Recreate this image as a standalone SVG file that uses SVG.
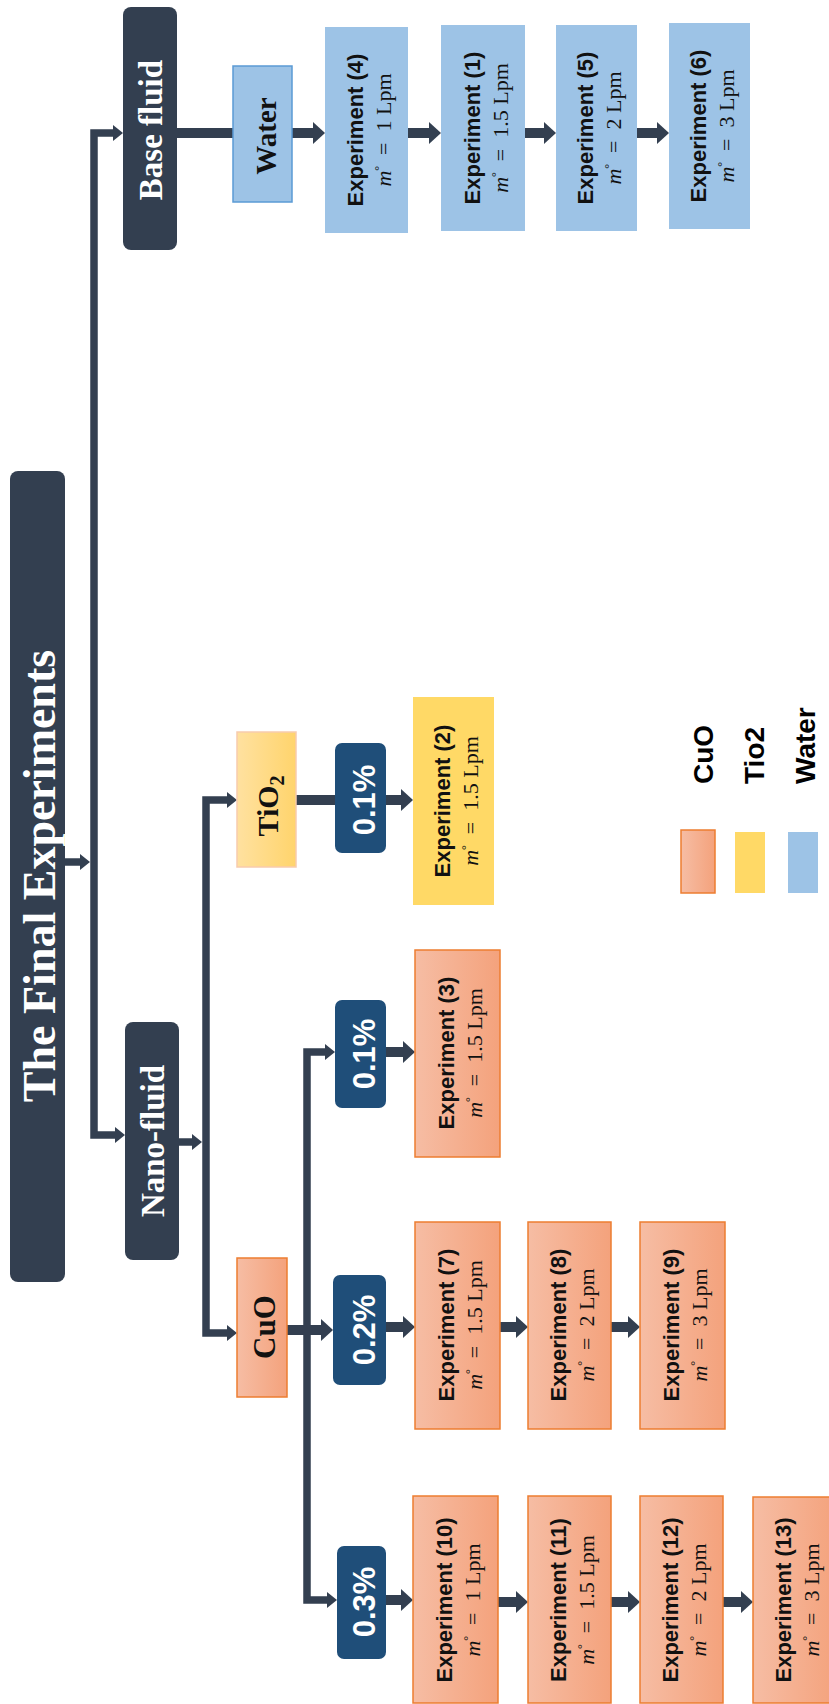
<svg xmlns="http://www.w3.org/2000/svg" width="829" height="1704" viewBox="0 0 829 1704">
<style>
.dark{fill:#333F50}
.pct{fill:#1F4E79}
.cuo{fill:url(#gCuO);stroke:#ED7D31;stroke-width:1.5}
.wat{fill:#9DC3E6}
.watb{fill:#9DC3E6;stroke:#5B9BD5;stroke-width:1.5}
.tib{fill:url(#gTi);stroke:#F8CBAD;stroke-width:1.5}
.ti{fill:#FFD966}
.t1{font-family:"Liberation Sans",Arial,sans-serif;font-weight:bold;font-size:22px;fill:#111;text-anchor:middle}
.t2{font-family:"Liberation Serif","Times New Roman",serif;font-size:22px;fill:#111;text-anchor:middle}
.sw{font-family:"Liberation Serif","Times New Roman",serif;font-weight:bold;fill:#fff;text-anchor:middle}
.sb{font-family:"Liberation Serif","Times New Roman",serif;font-weight:bold;fill:#111;text-anchor:middle}
.pt{font-family:"Liberation Sans",Arial,sans-serif;font-weight:bold;font-size:31px;fill:#fff;text-anchor:middle}
.lg{font-family:"Liberation Sans",Arial,sans-serif;font-weight:bold;font-size:28px;fill:#000;text-anchor:start}
.thin{fill:none;stroke:#333F50;stroke-width:7.5;stroke-linejoin:miter}
.thick{fill:none;stroke:#333F50;stroke-width:10}
</style>
<defs>
<linearGradient id="gCuO" x1="0" y1="0" x2="1" y2="0"><stop offset="0" stop-color="#F6BDA4"/><stop offset="1" stop-color="#F4A27C"/></linearGradient>
<linearGradient id="gTi" x1="0" y1="0" x2="1" y2="0"><stop offset="0" stop-color="#FFE1A0"/><stop offset="1" stop-color="#FFD46C"/></linearGradient>
<marker id="hk" markerUnits="userSpaceOnUse" markerWidth="13" markerHeight="22" refX="0" refY="11" orient="auto"><path d="M0,0 L12,11 L0,22 Z" fill="#333F50"/></marker>
<marker id="hn" markerUnits="userSpaceOnUse" markerWidth="11" markerHeight="16" refX="0" refY="8" orient="auto"><path d="M0,0 L10,8 L0,16 Z" fill="#333F50"/></marker>
</defs>

<g id="connectors">
<path class="thin" d="M65,862 H80" marker-end="url(#hn)"/>
<path class="thin" d="M94,862 V133 H113" marker-end="url(#hn)"/>
<path class="thin" d="M94,862 V1135 H115" marker-end="url(#hn)"/>
<path class="thin" d="M179,1142 H192" marker-end="url(#hn)"/>
<path class="thin" d="M206,1142 V800 H227" marker-end="url(#hn)"/>
<path class="thin" d="M206,1142 V1333 H227" marker-end="url(#hn)"/>
<path class="thin" d="M307,1330 V1052 H325" marker-end="url(#hn)"/>
<path class="thin" d="M307,1330 V1600 H327" marker-end="url(#hn)"/>
<path class="thick" d="M177,133 H233"/>
<path class="thick" d="M292,133 H313" marker-end="url(#hk)"/>
<path class="thick" d="M408,133 H429" marker-end="url(#hk)"/>
<path class="thick" d="M525,133 H544" marker-end="url(#hk)"/>
<path class="thick" d="M637,133 H657" marker-end="url(#hk)"/>
<path class="thick" d="M296,800 H335"/>
<path class="thick" d="M386,800 H401" marker-end="url(#hk)"/>
<path class="thick" d="M287,1330 H321" marker-end="url(#hk)"/>
<path class="thick" d="M386,1052 H403" marker-end="url(#hk)"/>
<path class="thick" d="M386,1327 H403" marker-end="url(#hk)"/>
<path class="thick" d="M500,1327 H516" marker-end="url(#hk)"/>
<path class="thick" d="M611,1327 H628" marker-end="url(#hk)"/>
<path class="thick" d="M386,1600 H401" marker-end="url(#hk)"/>
<path class="thick" d="M498,1602 H516" marker-end="url(#hk)"/>
<path class="thick" d="M611,1602 H628" marker-end="url(#hk)"/>
<path class="thick" d="M723,1602 H741" marker-end="url(#hk)"/>
</g>

<g id="title"><rect class="dark" x="10" y="471" width="55" height="811" rx="8"/>
<text class="sw" font-size="46" transform="translate(55,876) rotate(-90)">The Final Experiments</text></g>
<g id="base-fluid"><rect class="dark" x="123" y="7" width="54" height="243" rx="8"/>
<text class="sw" font-size="33" transform="translate(162,130) rotate(-90)">Base fluid</text></g>
<g id="nano-fluid"><rect class="dark" x="125" y="1022" width="54" height="238" rx="8"/>
<text class="sw" font-size="33" transform="translate(164,1141) rotate(-90)">Nano-fluid</text></g>
<g id="water"><rect class="watb" x="233" y="66" width="59" height="136"/>
<text class="sb" font-size="29" transform="translate(276,136) rotate(-90)">Water</text></g>
<g id="tio2"><rect class="tib" x="237" y="732" width="59" height="135"/>
<text class="sb" font-size="30" transform="translate(278,806) rotate(-90)">TiO<tspan font-size="20" dy="6">2</tspan></text></g>
<g id="cuo"><rect class="cuo" x="237" y="1258" width="50" height="139"/>
<text class="sb" font-size="31" transform="translate(275,1327) rotate(-90)">CuO</text></g>

<g id="pct-ti-01"><rect class="pct" x="335" y="743" width="51" height="110" rx="7"/>
<text class="pt" transform="translate(375,800) rotate(-90)">0.1%</text></g>
<g id="pct-cuo-01"><rect class="pct" x="335" y="1000" width="51" height="108" rx="7"/>
<text class="pt" transform="translate(375,1054) rotate(-90)">0.1%</text></g>
<g id="pct-cuo-02"><rect class="pct" x="333" y="1275" width="53" height="110" rx="7"/>
<text class="pt" transform="translate(375,1330) rotate(-90)">0.2%</text></g>
<g id="pct-cuo-03"><rect class="pct" x="337" y="1546" width="49" height="113" rx="7"/>
<text class="pt" transform="translate(375,1602) rotate(-90)">0.3%</text></g>

<g id="exp4"><rect class="wat" x="325" y="27" width="83" height="206"/>
<text class="t1" transform="translate(363,130) rotate(-90)">Experiment (4)</text>
<text class="t2" transform="translate(391,130) rotate(-90)"><tspan font-style="italic">m</tspan><tspan font-size="12" dy="-8">°</tspan><tspan dy="8">&#8194;=&#8194;1 Lpm</tspan></text></g>
<g id="exp1"><rect class="wat" x="441" y="25" width="84" height="206"/>
<text class="t1" transform="translate(480,128) rotate(-90)">Experiment (1)</text>
<text class="t2" transform="translate(508,128) rotate(-90)"><tspan font-style="italic">m</tspan><tspan font-size="12" dy="-8">°</tspan><tspan dy="8">&#8194;=&#8194;1.5 Lpm</tspan></text></g>
<g id="exp5"><rect class="wat" x="556" y="25" width="81" height="206"/>
<text class="t1" transform="translate(593,128) rotate(-90)">Experiment (5)</text>
<text class="t2" transform="translate(621,128) rotate(-90)"><tspan font-style="italic">m</tspan><tspan font-size="12" dy="-8">°</tspan><tspan dy="8">&#8194;=&#8194;2 Lpm</tspan></text></g>
<g id="exp6"><rect class="wat" x="669" y="23" width="81" height="206"/>
<text class="t1" transform="translate(706,126) rotate(-90)">Experiment (6)</text>
<text class="t2" transform="translate(734,126) rotate(-90)"><tspan font-style="italic">m</tspan><tspan font-size="12" dy="-8">°</tspan><tspan dy="8">&#8194;=&#8194;3 Lpm</tspan></text></g>

<g id="exp2"><rect class="ti" x="413" y="697" width="81" height="208"/>
<text class="t1" transform="translate(450,801) rotate(-90)">Experiment (2)</text>
<text class="t2" transform="translate(478,801) rotate(-90)"><tspan font-style="italic">m</tspan><tspan font-size="12" dy="-8">°</tspan><tspan dy="8">&#8194;=&#8194;1.5 Lpm</tspan></text></g>

<g id="exp3"><rect class="cuo" x="415" y="950" width="85" height="207"/>
<text class="t1" transform="translate(454,1053) rotate(-90)">Experiment (3)</text>
<text class="t2" transform="translate(482,1053) rotate(-90)"><tspan font-style="italic">m</tspan><tspan font-size="12" dy="-8">°</tspan><tspan dy="8">&#8194;=&#8194;1.5 Lpm</tspan></text></g>
<g id="exp7"><rect class="cuo" x="415" y="1222" width="85" height="207"/>
<text class="t1" transform="translate(454,1325) rotate(-90)">Experiment (7)</text>
<text class="t2" transform="translate(482,1325) rotate(-90)"><tspan font-style="italic">m</tspan><tspan font-size="12" dy="-8">°</tspan><tspan dy="8">&#8194;=&#8194;1.5 Lpm</tspan></text></g>
<g id="exp8"><rect class="cuo" x="528" y="1222" width="83" height="207"/>
<text class="t1" transform="translate(566,1325) rotate(-90)">Experiment (8)</text>
<text class="t2" transform="translate(594,1325) rotate(-90)"><tspan font-style="italic">m</tspan><tspan font-size="12" dy="-8">°</tspan><tspan dy="8">&#8194;=&#8194;2 Lpm</tspan></text></g>
<g id="exp9"><rect class="cuo" x="640" y="1222" width="85" height="207"/>
<text class="t1" transform="translate(679,1325) rotate(-90)">Experiment (9)</text>
<text class="t2" transform="translate(707,1325) rotate(-90)"><tspan font-style="italic">m</tspan><tspan font-size="12" dy="-8">°</tspan><tspan dy="8">&#8194;=&#8194;3 Lpm</tspan></text></g>
<g id="exp10"><rect class="cuo" x="413" y="1496" width="85" height="207"/>
<text class="t1" transform="translate(452,1600) rotate(-90)">Experiment (10)</text>
<text class="t2" transform="translate(480,1600) rotate(-90)"><tspan font-style="italic">m</tspan><tspan font-size="12" dy="-8">°</tspan><tspan dy="8">&#8194;=&#8194;1 Lpm</tspan></text></g>
<g id="exp11"><rect class="cuo" x="528" y="1496" width="83" height="207"/>
<text class="t1" transform="translate(566,1600) rotate(-90)">Experiment (11)</text>
<text class="t2" transform="translate(594,1600) rotate(-90)"><tspan font-style="italic">m</tspan><tspan font-size="12" dy="-8">°</tspan><tspan dy="8">&#8194;=&#8194;1.5 Lpm</tspan></text></g>
<g id="exp12"><rect class="cuo" x="640" y="1496" width="83" height="207"/>
<text class="t1" transform="translate(678,1600) rotate(-90)">Experiment (12)</text>
<text class="t2" transform="translate(706,1600) rotate(-90)"><tspan font-style="italic">m</tspan><tspan font-size="12" dy="-8">°</tspan><tspan dy="8">&#8194;=&#8194;2 Lpm</tspan></text></g>
<g id="exp13"><rect class="cuo" x="753" y="1497" width="84" height="206"/>
<text class="t1" transform="translate(791,1600) rotate(-90)">Experiment (13)</text>
<text class="t2" transform="translate(819,1600) rotate(-90)"><tspan font-style="italic">m</tspan><tspan font-size="12" dy="-8">°</tspan><tspan dy="8">&#8194;=&#8194;3 Lpm</tspan></text></g>

<g id="legend">
<rect class="cuo" x="681" y="830" width="34" height="63"/>
<rect class="ti" x="735" y="832" width="30" height="61"/>
<rect class="wat" x="788" y="832" width="30" height="61"/>
<text class="lg" transform="translate(713,784) rotate(-90)">CuO</text>
<text class="lg" transform="translate(764,784) rotate(-90)">Tio2</text>
<text class="lg" transform="translate(815,784) rotate(-90)">Water</text>
</g>
</svg>
